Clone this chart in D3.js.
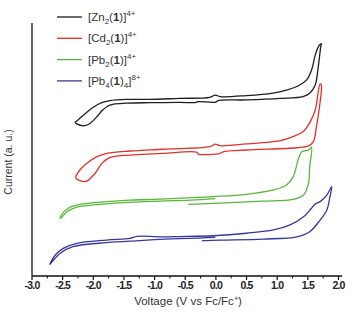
<!DOCTYPE html>
<meta charset="utf-8">
<style>
  body { margin: 0; padding: 0; background: #fff; }
  svg { display: block; }
  text { font-family: "Liberation Sans", Arial, sans-serif; }
  .tick-label { font-size: 10.5px; font-weight: bold; fill: #222; letter-spacing: -0.8px; }
  .axis-title { font-size: 11.5px; fill: #333; }
  .y-title { font-size: 10.5px; fill: #333; }
  .legend text { font-size: 11.5px; fill: #333; }
</style>
<script src="https://d3js.org/d3.v7.min.js"></script>
<body>
<div id="chart"></div>
<script>
// voltage (V vs Fc/Fc+), current (a. u., offset per trace)
var znScan = [[-2.30,60.8],[-2.27,60.1],[-2.14,59.4],[-2.05,60.4],[-1.94,63.0],[-1.86,65.3],[-1.78,66.9],[-1.67,67.9],
  [-1.46,68.3],[-1.08,68.5],[-0.59,68.6],[-0.32,68.6],[-0.30,68.9],[0.00,68.7],[0.03,69.3],[0.50,69.6],[1.05,70.2],
  [1.42,70.9],[1.53,72.2],[1.62,75.5],[1.67,82.7],[1.71,90.6],[1.72,91.8],
  [1.69,91.3],[1.63,88.1],[1.56,81.4],[1.48,77.5],[1.34,75.1],[1.15,73.5],[0.93,72.3],[0.50,71.3],[0.07,70.9],
  [-0.01,71.5],[-0.10,70.6],[-0.59,70.2],[-1.08,69.8],[-1.46,69.8],[-1.73,69.3],[-1.86,68.5],[-2.00,66.7],
  [-2.14,64.0],[-2.24,61.9],[-2.30,60.8]];

var cdScan = [[-2.29,39.2],[-2.27,38.3],[-2.14,37.3],[-2.08,37.9],[-1.97,40.6],[-1.86,44.5],[-1.76,46.5],[-1.62,47.4],
  [-1.40,47.8],[-0.86,48.5],[-0.31,48.9],[-0.29,48.2],[0.07,48.5],[0.12,49.1],[0.50,49.8],[1.32,50.7],[1.51,51.4],
  [1.59,53.1],[1.64,59.0],[1.69,66.9],[1.72,75.5],
  [1.70,75.9],[1.62,65.6],[1.53,60.5],[1.42,57.0],[1.26,55.1],[1.05,53.5],[0.77,52.7],[0.50,52.2],[0.07,51.5],
  [-0.01,52.1],[-0.10,51.1],[-0.86,50.1],[-1.40,49.4],[-1.78,48.5],[-1.94,47.2],[-2.11,44.5],[-2.22,41.9],[-2.29,39.2]];

var pb2Scan = [[-0.45,28.3],[-0.26,28.5],[0.23,29.0],[0.77,29.6],[1.26,30.3],[1.43,32.0],[1.51,36.6],[1.53,43.2],
  [1.56,50.9],[1.51,49.8],[1.40,49.1],[1.34,45.8],[1.26,39.2],[1.15,36.0],[0.94,34.0],[0.50,32.3],[-0.04,31.4],
  [-0.59,30.8],[-0.91,30.4],[-1.40,30.0],[-1.78,29.4],[-2.22,28.3],[-2.41,26.8],[-2.52,24.1],[-2.54,22.8],
  [-2.51,23.3],[-2.43,25.4],[-2.27,27.2],[-2.00,28.1],[-1.51,29.0],[-0.91,29.6],[-0.42,30.0],[-0.01,30.6]];

var pb4Scan = [[-0.23,14.0],[-0.18,14.0],[0.07,14.2],[0.77,14.6],[1.32,15.5],[1.53,17.5],[1.70,22.1],[1.81,26.1],
  [1.86,31.3],[1.89,35.3],[1.81,32.0],[1.70,29.4],[1.62,28.5],[1.56,26.8],[1.43,23.4],[1.21,20.2],[0.94,18.2],
  [0.50,16.9],[-0.04,15.9],[-0.59,15.6],[-0.91,15.5],[-1.29,15.7],[-1.40,14.9],[-1.78,14.2],[-2.27,12.9],
  [-2.49,10.9],[-2.62,8.3],[-2.71,4.6],[-2.68,5.4],[-2.54,9.0],[-2.33,11.6],[-1.78,13.2],[-1.24,14.0],
  [-0.91,14.5],[-0.21,15.1],[-0.01,15.3]];

var seriesColors = ["#1e1e1e", "#e3302c", "#5bb63c", "#35389a"];
var xTicks = [-3.0, -2.5, -2.0, -1.5, -1.0, -0.5, 0.0, 0.5, 1.0, 1.5, 2.0];
// legend labels: [metal, subscript, ligand subscript, charge]
var legendLabels = [["Zn", "2", "", "4+"], ["Cd", "2", "", "4+"], ["Pb", "2", "", "4+"], ["Pb", "4", "4", "8+"]];

var width = 355, height = 319;
var margin = {top: 23, right: 13, bottom: 43, left: 32};

var svg = d3.select("#chart").append("svg")
  .attr("width", width)
  .attr("height", height);

var x = d3.scaleLinear()
  .domain([-3, 2])
  .range([margin.left, margin.left + 306.5]);

var y = d3.scaleLinear()
  .domain([0, 100])
  .range([height - margin.bottom, height - margin.bottom - 253]);

var y0 = height - margin.bottom;

// axes
svg.append("line")
  .attr("x1", x(-3)).attr("x2", x(2.06))
  .attr("y1", y0).attr("y2", y0)
  .attr("stroke", "#111").attr("stroke-width", 1.3);
svg.append("line")
  .attr("x1", x(-3)).attr("x2", x(-3))
  .attr("y1", y0).attr("y2", margin.top)
  .attr("stroke", "#111").attr("stroke-width", 1.3);

var minor = d3.range(-2.75, 2.0, 0.5);
svg.selectAll(".minor")
  .data(minor).enter().append("line")
  .attr("x1", function(d) { return x(d); }).attr("x2", function(d) { return x(d); })
  .attr("y1", y0).attr("y2", y0 + 2.5)
  .attr("stroke", "#111").attr("stroke-width", 1);
svg.selectAll(".major")
  .data(xTicks).enter().append("line")
  .attr("x1", function(d) { return x(d); }).attr("x2", function(d) { return x(d); })
  .attr("y1", y0).attr("y2", y0 + 4)
  .attr("stroke", "#111").attr("stroke-width", 1.2);
svg.selectAll(".tick-label")
  .data(xTicks).enter().append("text")
  .attr("class", "tick-label")
  .attr("x", function(d) { return x(d); })
  .attr("y", y0 + 13)
  .attr("text-anchor", "middle")
  .text(function(d) { return d.toFixed(1); });

var xt = svg.append("text")
  .attr("class", "axis-title")
  .attr("x", 188).attr("y", 305)
  .attr("text-anchor", "middle");
xt.append("tspan").text("Voltage (V vs Fc/Fc");
xt.append("tspan").attr("dy", -4).attr("font-size", "7px").text("+");
xt.append("tspan").attr("dy", 4).text(")");

svg.append("text")
  .attr("class", "y-title")
  .attr("transform", "translate(12,162) rotate(-90)")
  .attr("text-anchor", "middle")
  .text("Current (a. u.)");

// traces
var line = d3.line()
  .x(function(d) { return x(d[0]); })
  .y(function(d) { return y(d[1]); })
  .curve(d3.curveCatmullRom.alpha(0.5));

[znScan, cdScan, pb2Scan, pb4Scan].forEach(function(s, i) {
  svg.append("path")
    .datum(s)
    .attr("d", line)
    .attr("fill", "none")
    .attr("stroke", seriesColors[i])
    .attr("stroke-width", 1.3)
    .attr("stroke-linejoin", "round");
});

// legend
var legend = svg.append("g").attr("class", "legend");
legendLabels.forEach(function(l, i) {
  var ly = 17 + i * 21.3;
  legend.append("line")
    .attr("x1", 57).attr("x2", 82)
    .attr("y1", ly).attr("y2", ly)
    .attr("stroke", seriesColors[i]).attr("stroke-width", 1.3);
  var t = legend.append("text").attr("x", 88).attr("y", ly + 4);
  t.append("tspan").text("[" + l[0]);
  t.append("tspan").attr("dy", 3).attr("font-size", "8px").text(l[1]);
  t.append("tspan").attr("dy", -3).text("(");
  t.append("tspan").attr("font-weight", "bold").text("1");
  t.append("tspan").text(")");
  if (l[2]) t.append("tspan").attr("dy", 3).attr("font-size", "8px").text(l[2]);
  t.append("tspan").attr("dy", l[2] ? -3 : 0).text("]");
  t.append("tspan").attr("dy", -5).attr("font-size", "8px").text(l[3]);
});
</script>
</body>
